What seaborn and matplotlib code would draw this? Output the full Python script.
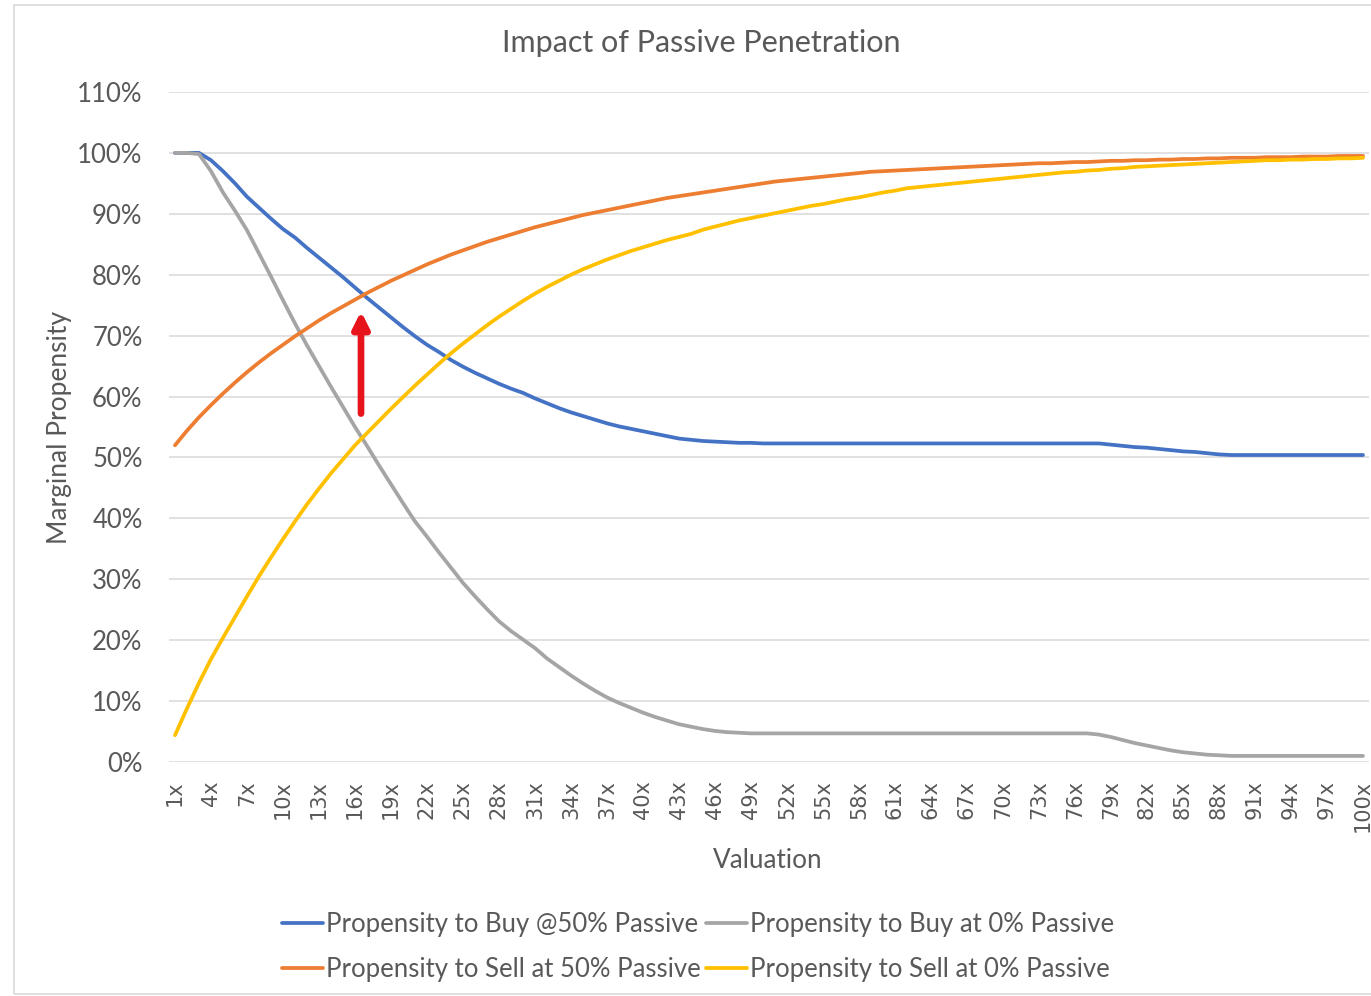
import numpy as np
import pandas as pd
import matplotlib
matplotlib.use("Agg")
import matplotlib.pyplot as plt
from matplotlib.patches import Rectangle
from matplotlib.ticker import FuncFormatter
import seaborn as sns

# Valuation multiples 1x .. 100x
valuation = list(range(1, 101))

buy_50_passive = [
    100.0, 100.0, 100.0, 98.8, 97.0, 95.0, 92.8, 91.0, 89.2, 87.5,
    86.1, 84.4, 82.8, 81.2, 79.6, 77.9, 76.2, 74.6, 73.0, 71.4,
    69.9, 68.5, 67.3, 66.0, 64.9, 63.9, 63.0, 62.1, 61.3, 60.6,
    59.7, 58.9, 58.1, 57.4, 56.8, 56.2, 55.6, 55.1, 54.7, 54.3,
    53.9, 53.5, 53.1, 52.9, 52.7, 52.6, 52.5, 52.4, 52.4, 52.3,
    52.3, 52.3, 52.3, 52.3, 52.3, 52.3, 52.3, 52.3, 52.3, 52.3,
    52.3, 52.3, 52.3, 52.3, 52.3, 52.3, 52.3, 52.3, 52.3, 52.3,
    52.3, 52.3, 52.3, 52.3, 52.3, 52.3, 52.3, 52.3, 52.1, 51.9,
    51.7, 51.6, 51.4, 51.2, 51.0, 50.9, 50.7, 50.5, 50.4, 50.4,
    50.4, 50.4, 50.4, 50.4, 50.4, 50.4, 50.4, 50.4, 50.4, 50.4,
]

buy_0_passive = [
    100.0, 100.0, 99.8, 97.0, 93.5, 90.5, 87.3, 83.5, 79.7, 75.8,
    72.0, 68.4, 65.0, 61.6, 58.3, 55.0, 51.9, 48.7, 45.6, 42.5,
    39.5, 37.0, 34.4, 31.9, 29.4, 27.2, 25.1, 23.1, 21.5, 20.1,
    18.7, 17.0, 15.6, 14.2, 12.9, 11.7, 10.6, 9.7, 8.9, 8.1,
    7.4, 6.8, 6.2, 5.8, 5.4, 5.1, 4.9, 4.8, 4.7, 4.7,
    4.7, 4.7, 4.7, 4.7, 4.7, 4.7, 4.7, 4.7, 4.7, 4.7,
    4.7, 4.7, 4.7, 4.7, 4.7, 4.7, 4.7, 4.7, 4.7, 4.7,
    4.7, 4.7, 4.7, 4.7, 4.7, 4.7, 4.7, 4.5, 4.1, 3.6,
    3.1, 2.7, 2.3, 1.9, 1.6, 1.4, 1.2, 1.1, 1.0, 1.0,
    1.0, 1.0, 1.0, 1.0, 1.0, 1.0, 1.0, 1.0, 1.0, 1.0,
]

sell_50_passive = [
    52.0, 54.4, 56.6, 58.6, 60.5, 62.3, 64.0, 65.6, 67.1, 68.5,
    69.9, 71.2, 72.5, 73.7, 74.8, 75.9, 77.0, 78.0, 79.0, 79.9,
    80.8, 81.7, 82.5, 83.3, 84.0, 84.7, 85.4, 86.0, 86.6, 87.2,
    87.8, 88.3, 88.8, 89.3, 89.8, 90.2, 90.6, 91.0, 91.4, 91.8,
    92.2, 92.6, 92.9, 93.2, 93.5, 93.8, 94.1, 94.4, 94.7, 95.0,
    95.3, 95.5, 95.7, 95.9, 96.1, 96.3, 96.5, 96.7, 96.9, 97.0,
    97.1, 97.2, 97.3, 97.4, 97.5, 97.6, 97.7, 97.8, 97.9, 98.0,
    98.1, 98.2, 98.3, 98.3, 98.4, 98.5, 98.5, 98.6, 98.7, 98.7,
    98.8, 98.8, 98.9, 98.9, 99.0, 99.0, 99.1, 99.1, 99.2, 99.2,
    99.2, 99.3, 99.3, 99.3, 99.4, 99.4, 99.4, 99.5, 99.5, 99.5,
]

sell_0_passive = [
    4.4, 8.8, 13.0, 16.9, 20.4, 23.8, 27.2, 30.5, 33.6, 36.6,
    39.5, 42.3, 44.9, 47.4, 49.7, 52.0, 54.0, 56.0, 58.0, 59.9,
    61.8, 63.6, 65.4, 67.1, 68.7, 70.2, 71.7, 73.1, 74.4, 75.7,
    76.9, 78.0, 79.0, 80.0, 80.9, 81.7, 82.5, 83.2, 83.9, 84.5,
    85.1, 85.7, 86.2, 86.7, 87.4, 87.9, 88.4, 88.9, 89.3, 89.7,
    90.1, 90.5, 90.9, 91.3, 91.6, 92.0, 92.4, 92.7, 93.1, 93.5,
    93.8, 94.2, 94.4, 94.6, 94.8, 95.0, 95.2, 95.4, 95.6, 95.8,
    96.0, 96.2, 96.4, 96.6, 96.8, 96.9, 97.1, 97.2, 97.4, 97.5,
    97.7, 97.8, 97.9, 98.0, 98.1, 98.2, 98.3, 98.4, 98.5, 98.6,
    98.7, 98.8, 98.8, 98.9, 98.9, 99.0, 99.0, 99.1, 99.1, 99.2,
]

series_names = [
    "Propensity to Buy @50% Passive",
    "Propensity to Buy at 0% Passive",
    "Propensity to Sell at 50% Passive",
    "Propensity to Sell at 0% Passive",
]
series_values = [buy_50_passive, buy_0_passive, sell_50_passive, sell_0_passive]
series_colors = ["#4472C4", "#A5A5A5", "#ED7D31", "#FFC000"]

tick_positions = list(range(1, 101, 3))
tick_labels = [f"{v}x" for v in tick_positions]

df = pd.concat(
    [pd.DataFrame({"Valuation": valuation, "Propensity": vals, "Series": name})
     for name, vals in zip(series_names, series_values)],
    ignore_index=True,
)

sns.set_theme(style="white")
plt.rcParams["font.family"] = ["Lato", "DejaVu Sans"]

TEXT = "#595959"
W, H = 1371, 996
fig = plt.figure(figsize=(W / 100, H / 100), dpi=100)
fig.patch.set_facecolor("white")

# chart frame
fig.add_artist(Rectangle((14 / W, 2 / H), 1.2, 1 - 7 / H, transform=fig.transFigure,
                         fill=False, edgecolor="#D9D9D9", linewidth=1.2))

ax = fig.add_axes([169 / W, (H - 762) / H, 1200 / W, 670 / H])
sns.lineplot(data=df, x="Valuation", y="Propensity", hue="Series",
             hue_order=series_names, palette=series_colors,
             linewidth=2.7, legend=False, ax=ax)

ax.set_xlim(0.5, 100.5)
ax.set_ylim(0, 110)
ax.set_yticks(range(0, 111, 10))
ax.yaxis.set_major_formatter(FuncFormatter(lambda v, _: f"{v:.0f}%"))
ax.set_xticks(tick_positions)
ax.set_xticklabels(tick_labels, rotation=90, fontfamily="DejaVu Sans",
                   fontsize=15, color=TEXT, va="top")
for lbl in ax.get_yticklabels():
    lbl.set_fontsize(18.5)
    lbl.set_color(TEXT)
ax.tick_params(axis="y", length=0, pad=19)
ax.tick_params(axis="x", length=0, pad=13)
ax.grid(axis="y", color="#D9D9D9", linewidth=1.1)
ax.set_axisbelow(True)
for s in ax.spines.values():
    s.set_visible(False)
ax.set_xlabel("")
ax.set_ylabel("")

# red arrow pointing at the crossover
ax.annotate("", xy=(16.5, 74.0), xytext=(16.5, 57.2),
            arrowprops=dict(arrowstyle="-|>", color="#E8141B", lw=4.8,
                            mutation_scale=24, shrinkA=0, shrinkB=0))

fig.text(701 / W, 1 - 43 / H, "Impact of Passive Penetration", ha="center",
         va="center", fontsize=22, color=TEXT)
fig.text(60 / W, 1 - 427 / H, "Marginal Propensity", ha="center", va="center",
         rotation=90, fontsize=19, color=TEXT)
fig.text(768 / W, 1 - 860 / H, "Valuation", ha="center", va="center",
         fontsize=18.8, color=TEXT)

lines = ax.get_lines()
handles = [lines[0], lines[2], lines[1], lines[3]]
labels = [series_names[0], series_names[2], series_names[1], series_names[3]]
fig.legend(handles, labels, loc="center", bbox_to_anchor=(698 / W, 1 - 947 / H),
           ncol=2, frameon=False, fontsize=18.5, labelcolor=TEXT,
           handlelength=1.6, handletextpad=0.1, columnspacing=0.22,
           labelspacing=0.8, borderpad=0)

fig.savefig("out.png", dpi=100, facecolor="white")
